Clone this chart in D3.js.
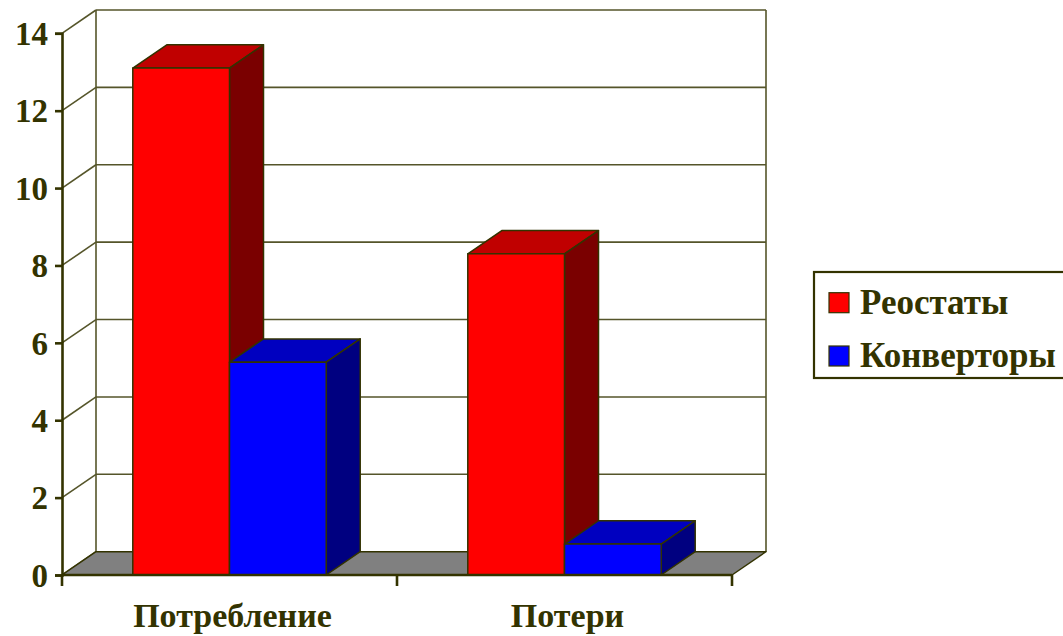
<!DOCTYPE html>
<html>
<head>
<meta charset="utf-8">
<script src="https://cdn.jsdelivr.net/npm/d3@7"></script>
<style>
  html, body { margin: 0; padding: 0; background: #fff; }
  svg { display: block; }
  text { font-family: "Liberation Serif", "Times New Roman", serif; font-weight: bold; fill: #333300; }
</style>
</head>
<body>
<svg id="chart" width="1063" height="636"></svg>
<script>
// Chart data
const categories = ["Потребление", "Потери"];
const seriesNames = ["Реостаты", "Конверторы"];
const reostaty = [13.1, 8.3];
const konvertory = [5.5, 0.8];
const yTicks = [0, 2, 4, 6, 8, 10, 12, 14];

// Face colours per series: front, top, side
const palette = {
  "Реостаты":   { front: "#ff0000", top: "#c00000", side: "#7a0000" },
  "Конверторы": { front: "#0000ff", top: "#0000c0", side: "#000080" }
};

const ink = "#333300";
const gridInk = "#55552a";

const svg = d3.select("#chart");

// Front plane extents and depth offset of the 3D box
const left = 62, right = 732, base = 575, top14 = 33.3;
const depthX = 34, depthY = -23.3;

const y = d3.scaleLinear().domain([0, 14]).range([base, top14]);
const x0 = d3.scaleBand().domain(categories).range([left, right]).padding(0);
const x1 = d3.scaleBand().domain(seriesNames).range([0, x0.bandwidth()]).paddingInner(0).paddingOuter(0.732);

const values = { "Реостаты": reostaty, "Конверторы": konvertory };

// Left side wall gridlines (diagonals) and back wall gridlines
const walls = svg.append("g");
yTicks.forEach(v => {
  const yy = y(v);
  if (v > 0) {
    walls.append("line")
      .attr("x1", left + depthX).attr("x2", right + depthX)
      .attr("y1", yy + depthY).attr("y2", yy + depthY)
      .attr("stroke", gridInk).attr("stroke-width", 1.6);
  }
  walls.append("line")
    .attr("x1", left).attr("y1", yy)
    .attr("x2", left + depthX).attr("y2", yy + depthY)
    .attr("stroke", gridInk).attr("stroke-width", 1.6);
});
// Back wall vertical edges
[left + depthX, right + depthX].forEach(xx => {
  walls.append("line")
    .attr("x1", xx).attr("x2", xx)
    .attr("y1", y(0) + depthY).attr("y2", y(14) + depthY)
    .attr("stroke", gridInk).attr("stroke-width", 1.6);
});

// Floor
const pts = p => p.map(d => d.join(",")).join(" ");
svg.append("polygon")
  .attr("points", pts([[left, base], [right, base], [right + depthX, base + depthY], [left + depthX, base + depthY]]))
  .attr("fill", "#808080").attr("stroke", ink).attr("stroke-width", 1.5).attr("stroke-linejoin", "round");

// Bars: drawn left to right so each front face overlaps the previous side face
const bars = svg.append("g");
categories.forEach((cat, ci) => {
  seriesNames.forEach(s => {
    const v = values[s][ci];
    const xa = x0(cat) + x1(s), xb = xa + x1.bandwidth();
    const yt = y(v), yb = y(0);
    const c = palette[s];
    const g = bars.append("g").attr("stroke", ink).attr("stroke-width", 1.5).attr("stroke-linejoin", "round");
    g.append("polygon") // top
      .attr("points", pts([[xa, yt], [xb, yt], [xb + depthX, yt + depthY], [xa + depthX, yt + depthY]]))
      .attr("fill", c.top);
    g.append("polygon") // right side
      .attr("points", pts([[xb, yt], [xb + depthX, yt + depthY], [xb + depthX, yb + depthY], [xb, yb]]))
      .attr("fill", c.side);
    g.append("rect") // front
      .attr("x", xa).attr("y", yt).attr("width", xb - xa).attr("height", yb - yt)
      .attr("fill", c.front);
  });
});

// Y axis
const yAxis = svg.append("g")
  .attr("transform", `translate(${left},0)`)
  .call(d3.axisLeft(y).tickValues(yTicks).tickSize(7).tickPadding(7).tickFormat(d3.format("d")));
yAxis.select(".domain").attr("stroke", ink).attr("stroke-width", 2.6);
yAxis.selectAll(".tick line").attr("stroke", ink).attr("stroke-width", 2.6);
yAxis.selectAll(".tick text")
  .attr("font-size", 33).attr("font-family", "Liberation Serif, serif").attr("font-weight", "bold")
  .attr("fill", ink).attr("dy", "0.34em");

// X axis along the floor front edge
const xAxis = svg.append("g");
xAxis.append("line")
  .attr("x1", left).attr("x2", right).attr("y1", base).attr("y2", base)
  .attr("stroke", ink).attr("stroke-width", 2.6);
const bounds = [left].concat(categories.map(c => x0(c) + x0.bandwidth()));
bounds.forEach(bx => {
  xAxis.append("line")
    .attr("x1", bx).attr("x2", bx).attr("y1", base).attr("y2", base + 11)
    .attr("stroke", ink).attr("stroke-width", 2.6);
});
categories.forEach(cat => {
  xAxis.append("text")
    .attr("x", x0(cat) + x0.bandwidth() / 2 + 3).attr("y", 627)
    .attr("text-anchor", "middle").attr("font-size", 34)
    .text(cat);
});

// Legend
const legend = svg.append("g");
legend.append("rect")
  .attr("x", 814).attr("y", 272).attr("width", 270).attr("height", 106)
  .attr("fill", "#fff").attr("stroke", ink).attr("stroke-width", 2.2);
seriesNames.forEach((s, i) => {
  const cy = 302.7 + i * 53.3;
  legend.append("rect")
    .attr("x", 829).attr("y", cy - 10).attr("width", 20).attr("height", 20)
    .attr("fill", palette[s].front).attr("stroke", ink).attr("stroke-width", 1.2);
  legend.append("text")
    .attr("x", 860).attr("y", cy + 11).attr("font-size", 35)
    .text(s);
});
</script>
</body>
</html>
